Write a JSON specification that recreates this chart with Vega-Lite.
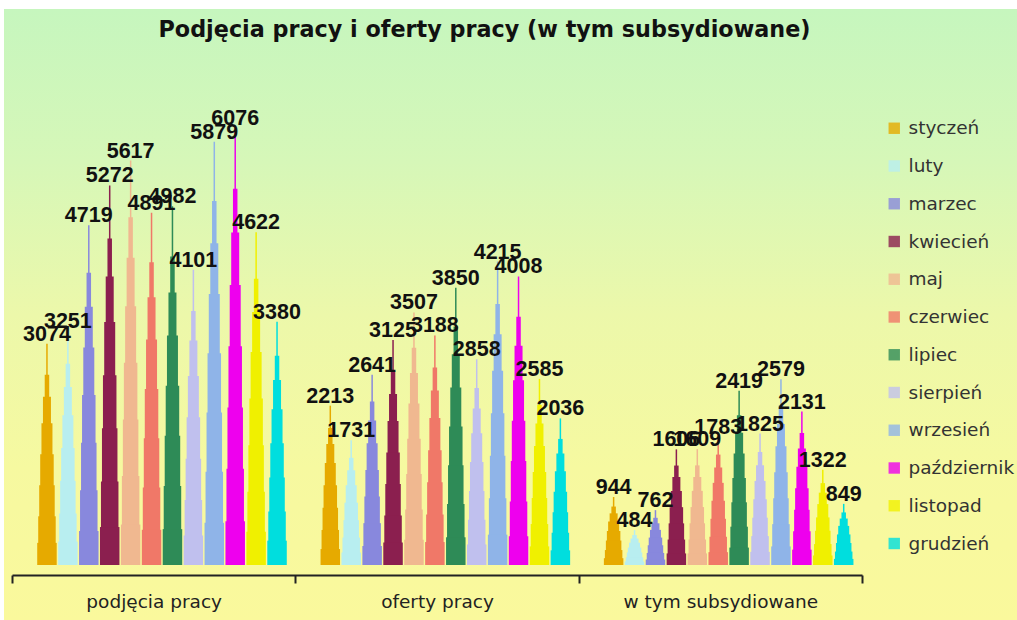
{
  "$schema": "https://vega.github.io/schema/vega-lite/v6.json",
  "width": 1013,
  "height": 611,
  "autosize": "none",
  "padding": {"left": 4, "top": 9, "right": 0, "bottom": 0},
  "background": "white",
  "title": {
    "text": "Podjęcia pracy i oferty pracy (w tym subsydiowane)",
    "font": "DejaVu Sans",
    "fontSize": 22.3,
    "fontWeight": "bold",
    "color": "#111111",
    "anchor": "middle",
    "frame": "group",
    "offset": -32,
    "dx": -26
  },
  "data": {
    "values": [
      {"kategoria": "podjęcia pracy", "miesiac": "styczeń", "wartosc": 3074},
      {"kategoria": "podjęcia pracy", "miesiac": "luty", "wartosc": 3251},
      {"kategoria": "podjęcia pracy", "miesiac": "marzec", "wartosc": 4719},
      {"kategoria": "podjęcia pracy", "miesiac": "kwiecień", "wartosc": 5272},
      {"kategoria": "podjęcia pracy", "miesiac": "maj", "wartosc": 5617},
      {"kategoria": "podjęcia pracy", "miesiac": "czerwiec", "wartosc": 4891},
      {"kategoria": "podjęcia pracy", "miesiac": "lipiec", "wartosc": 4982},
      {"kategoria": "podjęcia pracy", "miesiac": "sierpień", "wartosc": 4101},
      {"kategoria": "podjęcia pracy", "miesiac": "wrzesień", "wartosc": 5879},
      {"kategoria": "podjęcia pracy", "miesiac": "październik", "wartosc": 6076},
      {"kategoria": "podjęcia pracy", "miesiac": "listopad", "wartosc": 4622},
      {"kategoria": "podjęcia pracy", "miesiac": "grudzień", "wartosc": 3380},
      {"kategoria": "oferty pracy", "miesiac": "styczeń", "wartosc": 2213},
      {"kategoria": "oferty pracy", "miesiac": "luty", "wartosc": 1731},
      {"kategoria": "oferty pracy", "miesiac": "marzec", "wartosc": 2641},
      {"kategoria": "oferty pracy", "miesiac": "kwiecień", "wartosc": 3125},
      {"kategoria": "oferty pracy", "miesiac": "maj", "wartosc": 3507},
      {"kategoria": "oferty pracy", "miesiac": "czerwiec", "wartosc": 3188},
      {"kategoria": "oferty pracy", "miesiac": "lipiec", "wartosc": 3850},
      {"kategoria": "oferty pracy", "miesiac": "sierpień", "wartosc": 2858},
      {"kategoria": "oferty pracy", "miesiac": "wrzesień", "wartosc": 4215},
      {"kategoria": "oferty pracy", "miesiac": "październik", "wartosc": 4008},
      {"kategoria": "oferty pracy", "miesiac": "listopad", "wartosc": 2585},
      {"kategoria": "oferty pracy", "miesiac": "grudzień", "wartosc": 2036},
      {"kategoria": "w tym subsydiowane", "miesiac": "styczeń", "wartosc": 944},
      {"kategoria": "w tym subsydiowane", "miesiac": "luty", "wartosc": 484},
      {"kategoria": "w tym subsydiowane", "miesiac": "marzec", "wartosc": 762},
      {"kategoria": "w tym subsydiowane", "miesiac": "kwiecień", "wartosc": 1606},
      {"kategoria": "w tym subsydiowane", "miesiac": "maj", "wartosc": 1609},
      {"kategoria": "w tym subsydiowane", "miesiac": "czerwiec", "wartosc": 1783},
      {"kategoria": "w tym subsydiowane", "miesiac": "lipiec", "wartosc": 2419},
      {"kategoria": "w tym subsydiowane", "miesiac": "sierpień", "wartosc": 1825},
      {"kategoria": "w tym subsydiowane", "miesiac": "wrzesień", "wartosc": 2579},
      {"kategoria": "w tym subsydiowane", "miesiac": "październik", "wartosc": 2131},
      {"kategoria": "w tym subsydiowane", "miesiac": "listopad", "wartosc": 1322},
      {"kategoria": "w tym subsydiowane", "miesiac": "grudzień", "wartosc": 849}
    ]
  },
  "encoding": {
    "x": {
      "field": "kategoria",
      "type": "nominal",
      "sort": ["podjęcia pracy", "oferty pracy", "w tym subsydiowane"],
      "scale": {"range": [8, 858], "paddingInner": 0, "paddingOuter": 0},
      "axis": {
        "orient": "bottom",
        "offset": -45,
        "title": null,
        "labelAngle": 0,
        "labelLimit": 0,
        "domainColor": "#222222",
        "domainWidth": 2,
        "tickColor": "#222222",
        "tickWidth": 2,
        "tickSize": 8,
        "tickBand": "extent",
        "labelFont": "DejaVu Sans",
        "labelFontSize": 18.5,
        "labelColor": "#222222",
        "labelPadding": 9,
        "grid": false
      }
    },
    "xOffset": {
      "field": "miesiac",
      "type": "nominal",
      "sort": ["styczeń", "luty", "marzec", "kwiecień", "maj", "czerwiec", "lipiec", "sierpień", "wrzesień", "październik", "listopad", "grudzień"],
      "scale": {"range": [24.5, 275.5], "paddingInner": 0, "paddingOuter": 0}
    },
    "color": {
      "field": "miesiac",
      "type": "nominal",
      "sort": ["styczeń", "luty", "marzec", "kwiecień", "maj", "czerwiec", "lipiec", "sierpień", "wrzesień", "październik", "listopad", "grudzień"],
      "scale": {
        "domain": ["styczeń", "luty", "marzec", "kwiecień", "maj", "czerwiec", "lipiec", "sierpień", "wrzesień", "październik", "listopad", "grudzień"],
        "range": ["#e6aa00", "#b8eef0", "#8888dd", "#8b1f4f", "#f0b890", "#f07868", "#2e8b57", "#c0c0ee", "#8fb4e8", "#ee00ee", "#f0f000", "#00dede"]
      },
      "legend": {
        "orient": "none",
        "legendX": 881,
        "legendY": 110,
        "title": null,
        "symbolType": "square",
        "symbolSize": 130,
        "symbolStrokeWidth": 0,
        "symbolOpacity": 0.8,
        "labelFont": "DejaVu Sans",
        "labelFontSize": 18.5,
        "labelColor": "#333333",
        "rowPadding": 18.75,
        "labelOffset": 5,
        "padding": 0
      }
    }
  },
  "layer": [
    {"mark": {"type": "bar", "width": 1.5}, "encoding": {"y": {"field": "wartosc", "type": "quantitative", "axis": null, "scale": {"domain": [0, 7722], "range": [556, 0], "nice": false}}}},
    {"mark": {"type": "bar", "width": 4.5}, "encoding": {"y": {"field": "wartosc", "type": "quantitative", "axis": null, "scale": {"domain": [0, 8979], "range": [556, 0], "nice": false}}}},
    {"mark": {"type": "bar", "width": 8}, "encoding": {"y": {"field": "wartosc", "type": "quantitative", "axis": null, "scale": {"domain": [0, 10161], "range": [556, 0], "nice": false}}}},
    {"mark": {"type": "bar", "width": 11}, "encoding": {"y": {"field": "wartosc", "type": "quantitative", "axis": null, "scale": {"domain": [0, 12066], "range": [556, 0], "nice": false}}}},
    {"mark": {"type": "bar", "width": 13.5}, "encoding": {"y": {"field": "wartosc", "type": "quantitative", "axis": null, "scale": {"domain": [0, 15444], "range": [556, 0], "nice": false}}}},
    {"mark": {"type": "bar", "width": 15.5}, "encoding": {"y": {"field": "wartosc", "type": "quantitative", "axis": null, "scale": {"domain": [0, 21450], "range": [556, 0], "nice": false}}}},
    {"mark": {"type": "bar", "width": 17.5}, "encoding": {"y": {"field": "wartosc", "type": "quantitative", "axis": null, "scale": {"domain": [0, 35100], "range": [556, 0], "nice": false}}}},
    {"mark": {"type": "bar", "width": 19.5}, "encoding": {"y": {"field": "wartosc", "type": "quantitative", "axis": null, "scale": {"domain": [0, 77220], "range": [556, 0], "nice": false}}}},
    {
      "mark": {"type": "text", "font": "Liberation Sans", "fontWeight": "bold", "fontSize": 21.5, "baseline": "alphabetic", "dy": -3, "color": "#111111"},
      "encoding": {
        "y": {"field": "wartosc", "type": "quantitative", "axis": null, "scale": {"domain": [0, 7722], "range": [556, 0], "nice": false}},
        "text": {"field": "wartosc", "type": "quantitative", "format": "d"},
        "color": {"value": "#111111"}
      }
    }
  ],
  "resolve": {"scale": {"y": "independent"}},
  "config": {
    "view": {
      "stroke": null,
      "fill": {
        "gradient": "linear",
        "x1": 0, "y1": 0, "x2": 0, "y2": 1,
        "stops": [
          {"offset": 0, "color": "#c6f6be"},
          {"offset": 0.25, "color": "#d6f7b8"},
          {"offset": 0.5, "color": "#ecf8aa"},
          {"offset": 0.75, "color": "#f6f9a0"},
          {"offset": 1, "color": "#faf99c"}
        ]
      }
    }
  }
}
